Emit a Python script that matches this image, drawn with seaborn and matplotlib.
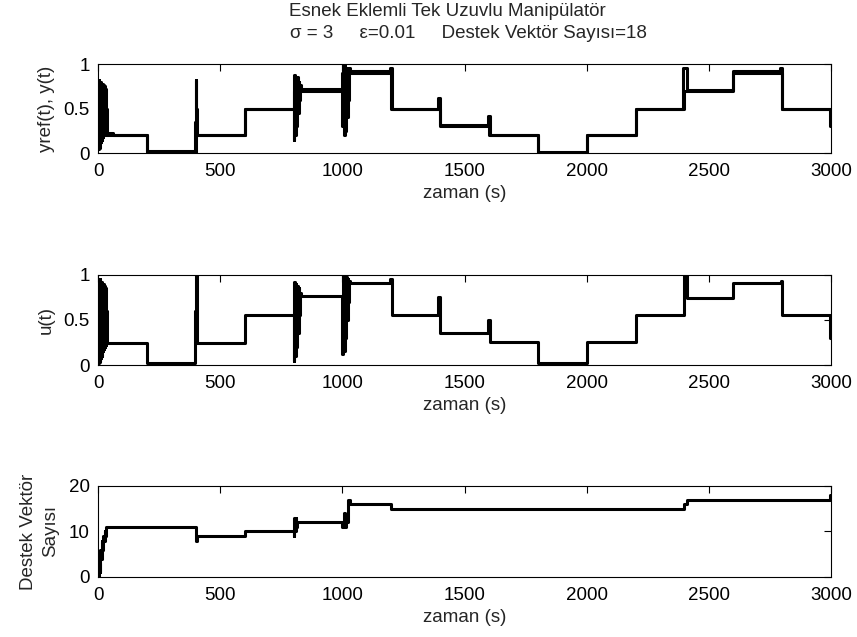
import numpy as np
import pandas as pd
import matplotlib
matplotlib.use("Agg")
import matplotlib.pyplot as plt
import seaborn as sns

# referans sinyal yref(t): her 200 s'de bir seviye degisiyor
ref_zaman = [0, 200, 400, 600, 800, 1000, 1200, 1400, 1600, 1800, 2000, 2200, 2400, 2600, 2800, 3000]
ref_deger = [0.2, 0.0, 0.2, 0.5, 0.7, 0.9, 0.5, 0.3, 0.2, 0.0, 0.2, 0.5, 0.7, 0.9, 0.5, 0.5]

# sistem cikisi y(t), gecis anlarindaki salinimlarla
cikis_zaman = [0, 2, 4, 6, 8, 10, 12, 14, 16, 18, 20, 22, 24, 26, 28, 30, 32, 34, 36, 60,
               200, 397, 399, 402, 405, 600,
               800, 803, 806, 809, 812, 815, 818, 821, 824, 827, 830,
               1000, 1003, 1006, 1009, 1012, 1015, 1018, 1021, 1024, 1027, 1030,
               1195, 1203, 1392, 1400, 1596, 1604, 1800, 2000, 2200,
               2395, 2410, 2600, 2790, 2800, 2996, 3000]
cikis_deger = [0.05, 0.82, 0.06, 0.80, 0.10, 0.80, 0.12, 0.78, 0.15, 0.78, 0.18, 0.76, 0.20, 0.75, 0.20, 0.72, 0.20, 0.50, 0.22, 0.20,
               0.02, 0.35, 0.82, 0.50, 0.20, 0.50,
               0.15, 0.88, 0.20, 0.85, 0.30, 0.85, 0.45, 0.80, 0.60, 0.76, 0.72,
               0.30, 1.00, 0.20, 0.98, 0.25, 0.96, 0.40, 0.95, 0.60, 0.95, 0.92,
               0.96, 0.50, 0.62, 0.31, 0.42, 0.20, 0.01, 0.20, 0.50,
               0.95, 0.71, 0.92, 0.95, 0.50, 0.30, 0.30]

# kontrol isareti u(t)
u_zaman = [0, 2, 4, 6, 8, 10, 12, 14, 16, 18, 20, 22, 24, 26, 28, 30, 32, 34, 36,
           200, 397, 399, 403, 600,
           800, 803, 806, 809, 812, 815, 818, 821, 824, 827, 830,
           1000, 1003, 1006, 1009, 1012, 1015, 1018, 1021, 1024, 1027, 1030,
           1195, 1203, 1392, 1400, 1596, 1604, 1800, 2000, 2200,
           2397, 2410, 2600, 2795, 2800, 2996, 3000]
u_deger = [0.02, 0.95, 0.03, 0.95, 0.05, 0.92, 0.08, 0.92, 0.10, 0.90, 0.15, 0.90, 0.18, 0.88, 0.20, 0.85, 0.22, 0.60, 0.24,
           0.02, 0.60, 1.00, 0.24, 0.55,
           0.05, 0.92, 0.10, 0.90, 0.20, 0.88, 0.35, 0.85, 0.55, 0.80, 0.77,
           0.12, 1.00, 0.15, 1.00, 0.30, 0.98, 0.50, 0.95, 0.70, 0.93, 0.91,
           0.95, 0.55, 0.75, 0.36, 0.50, 0.25, 0.02, 0.25, 0.55,
           1.00, 0.74, 0.91, 0.93, 0.55, 0.30, 0.30]

# destek vektor sayisi
dv_zaman = [0, 3, 6, 9, 12, 15, 18, 21, 24, 27, 30, 33, 400, 405, 600,
            800, 803, 806, 809, 812, 815,
            1000, 1005, 1010, 1015, 1020, 1025, 1030, 1200, 2400, 2410, 2995, 3000]
dv_deger = [0, 3, 1, 6, 4, 8, 6, 9, 8, 10, 9, 11, 8, 9, 10,
            9, 13, 10, 13, 11, 12,
            11, 14, 11, 13, 12, 17, 16, 15, 16, 17, 18, 18]

sns.set_style("white")
plt.rcParams['font.family'] = ['Liberation Sans', 'DejaVu Sans']
YAZI = 13.5

fig = plt.figure(figsize=(8.57, 6.37), dpi=100)
ax1 = fig.add_axes([0.1144, 0.7598, 0.8553, 0.1397])
ax2 = fig.add_axes([0.1144, 0.4270, 0.8553, 0.1413])
ax3 = fig.add_axes([0.1144, 0.0942, 0.8553, 0.1429])


def ciz(ax, zaman, deger):
    sns.lineplot(x=zaman, y=deger, ax=ax, color='black', linewidth=2.2,
                 drawstyle='steps-post', estimator=None, sort=False)


def eksen_duzenle(ax, ust, yticks, yetiketler, ylabel, ypad=6):
    ax.set_xlim(0, 3000)
    ax.set_ylim(0, ust)
    ax.set_xticks([0, 500, 1000, 1500, 2000, 2500, 3000])
    ax.set_xticklabels(['0', '500', '1000', '1500', '2000', '2500', '3000'])
    ax.set_yticks(yticks)
    ax.set_yticklabels(yetiketler)
    ax.tick_params(direction='in', top=True, right=True, length=5, width=0.8,
                   labelsize=YAZI, colors='black')
    ax.tick_params(axis='x', pad=7)
    ax.tick_params(axis='y', pad=6)
    for s in ax.spines.values():
        s.set_visible(True)
        s.set_linewidth(0.8)
        s.set_color('black')
    ax.set_xlabel('zaman (s)', fontsize=YAZI, labelpad=4)
    ax.set_ylabel(ylabel, fontsize=YAZI, labelpad=ypad, linespacing=1.35)


ciz(ax1, ref_zaman, ref_deger)
ciz(ax1, cikis_zaman, cikis_deger)
eksen_duzenle(ax1, 1, [0, 0.5, 1], ['0', '0.5', '1'], 'yref(t), y(t)')

# iki satirlik baslik (MATLAB gibi satirlar biraz kaymis)
fig.text(447 / 857, 1 - 12 / 637, "Esnek Eklemli Tek Uzuvlu Manipülatör",
         ha='center', va='center', fontsize=YAZI)
fig.text(468 / 857, 1 - 34 / 637, "σ = 3     ε=0.01     Destek Vektör Sayısı=18",
         ha='center', va='center', fontsize=YAZI)

ciz(ax2, u_zaman, u_deger)
eksen_duzenle(ax2, 1, [0, 0.5, 1], ['0', '0.5', '1'], 'u(t)')

ciz(ax3, dv_zaman, dv_deger)
eksen_duzenle(ax3, 20, [0, 10, 20], ['0', '10', '20'], 'Destek Vektör\nSayısı', ypad=7)

fig.savefig("out.png", dpi=100)
